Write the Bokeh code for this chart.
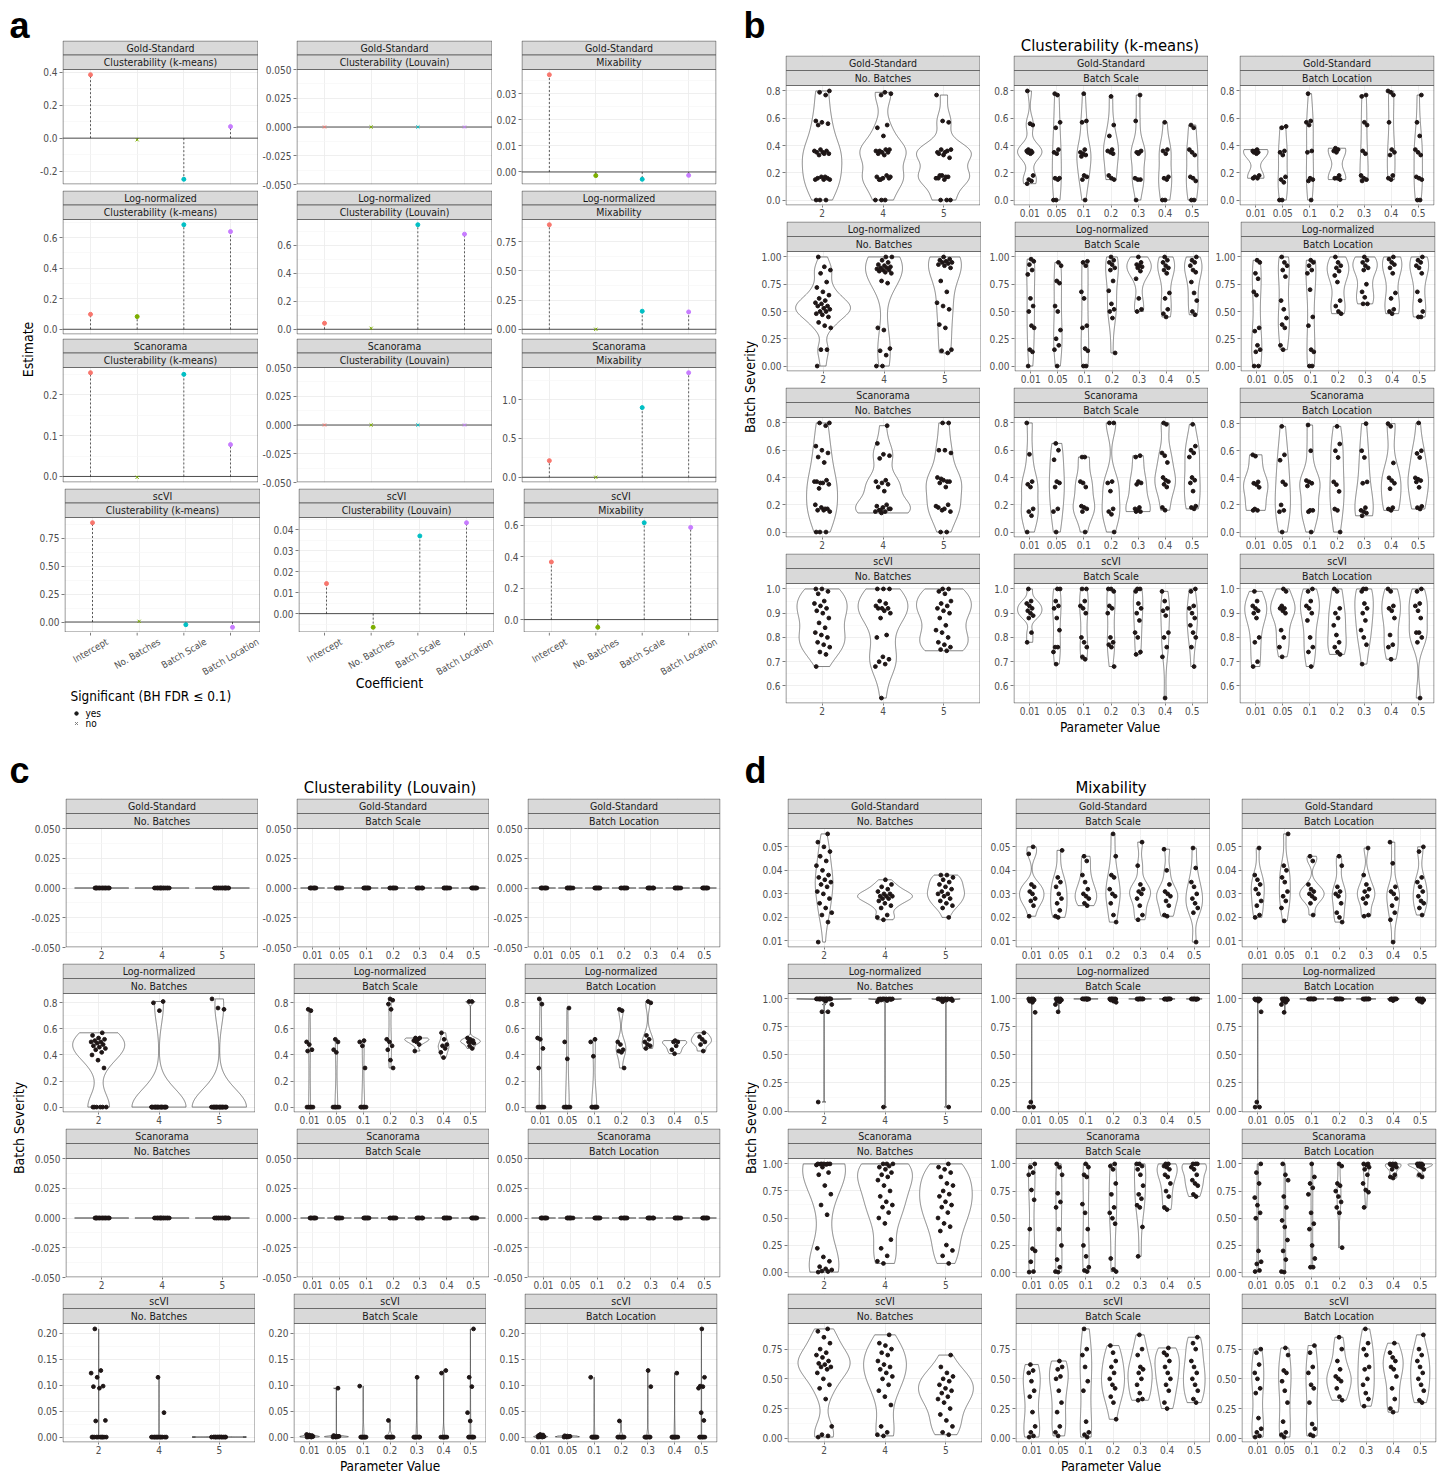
import math
import numpy as np
from bokeh.plotting import figure
from bokeh.layouts import row, column
from bokeh.models import Range1d, FixedTicker, NumeralTickFormatter
from bokeh.core.properties import value
from bokeh.embed import file_html
from bokeh.resources import INLINE

# ===================== DATA =====================
METHODS = ["Gold-Standard", "Log-normalized", "Scanorama", "scVI"]
METRICS = ["Clusterability (k-means)", "Clusterability (Louvain)", "Mixability"]
PARAMS = ["No. Batches", "Batch Scale", "Batch Location"]
NB_LEVELS = ["2", "4", "5"]
PV_LEVELS = ["0.01", "0.05", "0.1", "0.2", "0.3", "0.4", "0.5"]
COEFS = ["Intercept", "No. Batches", "Batch Scale", "Batch Location"]
COEF_COLORS = ["#F8766D", "#7CAE00", "#00BFC4", "#C77CFF"]

# ---- panel a: regression estimates (per method: k-means, Louvain, Mixability) ----
est_gold = [[0.384, -0.010, -0.249, 0.070], [0.0, 0.0, 0.0, 0.0], [0.0373, -0.0014, -0.0028, -0.0013]]
est_lognorm = [[0.098, 0.083, 0.685, 0.640], [0.043, 0.007, 0.745, 0.678], [0.897, 0.0, 0.155, 0.149]]
est_scanorama = [[0.254, -0.002, 0.250, 0.078], [0.0, 0.0, 0.0, 0.0], [0.214, 0.0, 0.897, 1.346]]
est_scvi = [[0.887, 0.006, -0.024, -0.047], [0.0143, -0.0065, 0.0370, 0.0433], [0.367, -0.049, 0.617, 0.587]]
sig_gold = [["yes", "no", "yes", "yes"], ["no", "no", "no", "no"], ["yes", "yes", "yes", "yes"]]
sig_lognorm = [["yes", "yes", "yes", "yes"], ["yes", "no", "yes", "yes"], ["yes", "no", "yes", "yes"]]
sig_scanorama = [["yes", "no", "yes", "yes"], ["no", "no", "no", "no"], ["yes", "no", "yes", "yes"]]
sig_scvi = [["yes", "no", "yes", "yes"], ["yes", "yes", "yes", "yes"], ["yes", "yes", "yes", "yes"]]
ticks_a_gold = [[-0.2, 0.0, 0.2, 0.4], [-0.05, -0.025, 0.0, 0.025, 0.05], [0.0, 0.01, 0.02, 0.03]]
ticks_a_lognorm = [[0.0, 0.2, 0.4, 0.6], [0.0, 0.2, 0.4, 0.6], [0.0, 0.25, 0.5, 0.75]]
ticks_a_scanorama = [[0.0, 0.1, 0.2], [-0.05, -0.025, 0.0, 0.025, 0.05], [0.0, 0.5, 1.0]]
ticks_a_scvi = [[0.0, 0.25, 0.5, 0.75], [0.0, 0.01, 0.02, 0.03, 0.04], [0.0, 0.2, 0.4, 0.6]]

# ---- panel b: Clusterability (k-means) batch severity ----
km_ticks = [[0.0, 0.2, 0.4, 0.6, 0.8], [0.0, 0.25, 0.5, 0.75, 1.0], [0.0, 0.2, 0.4, 0.6, 0.8], [0.6, 0.7, 0.8, 0.9, 1.0]]
km_gold_nb = [
    [0, 0, 0, 0.15, 0.15, 0.16, 0.16, 0.17, 0.15, 0.17, 0.33, 0.34, 0.35, 0.35, 0.36, 0.37, 0.36, 0.34, 0.55, 0.56, 0.57, 0.58, 0.77, 0.79, 0.8],
    [0, 0, 0, 0.15, 0.16, 0.16, 0.17, 0.18, 0.15, 0.17, 0.33, 0.34, 0.35, 0.35, 0.36, 0.37, 0.36, 0.37, 0.47, 0.53, 0.55, 0.77, 0.78, 0.79],
    [0, 0, 0, 0.15, 0.16, 0.17, 0.18, 0.16, 0.17, 0.18, 0.31, 0.33, 0.35, 0.36, 0.37, 0.37, 0.35, 0.34, 0.57, 0.58, 0.77]]
km_gold_scale = [
    [0.12, 0.14, 0.15, 0.18, 0.34, 0.35, 0.35, 0.35, 0.36, 0.36, 0.37, 0.55, 0.56, 0.8],
    [0, 0, 0.15, 0.16, 0.16, 0.34, 0.35, 0.37, 0.53, 0.57, 0.77, 0.78],
    [0, 0.15, 0.17, 0.18, 0.32, 0.33, 0.34, 0.35, 0.37, 0.57, 0.58, 0.78],
    [0.15, 0.16, 0.18, 0.34, 0.35, 0.36, 0.37, 0.47, 0.55, 0.76],
    [0, 0.15, 0.15, 0.16, 0.35, 0.35, 0.36, 0.34, 0.58, 0.77],
    [0, 0, 0.15, 0.16, 0.17, 0.34, 0.36, 0.37, 0.57],
    [0, 0, 0.14, 0.16, 0.17, 0.33, 0.35, 0.37, 0.53, 0.55]]
km_gold_loc = [
    [0.16, 0.16, 0.17, 0.18, 0.34, 0.35, 0.35, 0.36, 0.36, 0.37],
    [0, 0, 0.13, 0.15, 0.17, 0.33, 0.35, 0.36, 0.53, 0.54],
    [0, 0.14, 0.15, 0.16, 0.35, 0.36, 0.55, 0.57, 0.58, 0.78],
    [0.15, 0.16, 0.16, 0.18, 0.35, 0.36, 0.37, 0.38],
    [0.14, 0.15, 0.16, 0.18, 0.34, 0.36, 0.55, 0.57, 0.76, 0.77],
    [0.15, 0.16, 0.18, 0.33, 0.35, 0.37, 0.57, 0.77, 0.79, 0.8],
    [0, 0, 0.15, 0.16, 0.17, 0.33, 0.35, 0.37, 0.47, 0.57, 0.77]]
km_lognorm_nb = [
    [0, 0.15, 0.15, 0.35, 0.37, 0.4, 0.45, 0.47, 0.48, 0.5, 0.5, 0.52, 0.53, 0.55, 0.55, 0.57, 0.58, 0.6, 0.62, 0.65, 0.68, 0.72, 0.77, 0.85, 0.88, 0.91, 1.0],
    [0, 0, 0.1, 0.14, 0.16, 0.33, 0.35, 0.76, 0.78, 0.85, 0.86, 0.87, 0.88, 0.88, 0.89, 0.9, 0.9, 0.91, 0.92, 0.93, 0.95, 0.97, 1.0, 1.0],
    [0.12, 0.14, 0.15, 0.35, 0.38, 0.52, 0.55, 0.58, 0.68, 0.78, 0.9, 0.92, 0.93, 0.94, 0.95, 0.95, 0.96, 0.97, 0.98, 1.0]]
km_lognorm_scale = [
    [0, 0.13, 0.15, 0.35, 0.37, 0.5, 0.55, 0.62, 0.84, 0.88, 0.93, 0.96, 0.98],
    [0, 0.15, 0.19, 0.25, 0.33, 0.5, 0.55, 0.76, 0.78, 0.92, 0.95],
    [0, 0, 0.14, 0.16, 0.35, 0.37, 0.62, 0.68, 0.92, 0.95, 0.96],
    [0.12, 0.44, 0.5, 0.52, 0.57, 0.69, 0.78, 0.88, 0.9, 0.93, 0.95, 0.97, 1.0],
    [0.5, 0.52, 0.62, 0.8, 0.87, 0.9, 0.91, 0.92, 0.93, 0.95, 1.0],
    [0.45, 0.48, 0.52, 0.62, 0.67, 0.85, 0.88, 0.9, 0.92, 0.95, 0.97, 1.0],
    [0.47, 0.5, 0.6, 0.67, 0.77, 0.86, 0.88, 0.92, 0.95, 0.97, 1.0]]
km_lognorm_loc = [
    [0, 0, 0.13, 0.15, 0.19, 0.32, 0.35, 0.65, 0.68, 0.8, 0.85, 0.95, 0.97],
    [0.15, 0.19, 0.35, 0.38, 0.44, 0.52, 0.6, 0.82, 0.88, 0.92, 0.95, 1.0],
    [0, 0, 0.13, 0.15, 0.37, 0.45, 0.7, 0.85, 0.88, 0.92, 0.95, 0.97],
    [0.48, 0.5, 0.55, 0.6, 0.77, 0.83, 0.87, 0.9, 0.92, 0.95, 1.0],
    [0.57, 0.57, 0.63, 0.68, 0.75, 0.88, 0.9, 0.92, 0.95, 0.97, 1.0],
    [0.48, 0.5, 0.52, 0.62, 0.67, 0.85, 0.9, 0.93, 0.95, 0.98, 1.0],
    [0.45, 0.45, 0.5, 0.6, 0.68, 0.85, 0.9, 0.92, 0.95, 0.97, 1.0]]
km_scan_nb = [
    [0, 0, 0, 0.15, 0.16, 0.16, 0.17, 0.18, 0.2, 0.17, 0.32, 0.35, 0.36, 0.37, 0.38, 0.36, 0.37, 0.51, 0.55, 0.58, 0.6, 0.63, 0.78, 0.8, 0.8],
    [0.14, 0.15, 0.15, 0.16, 0.17, 0.18, 0.19, 0.2, 0.16, 0.17, 0.3, 0.33, 0.35, 0.36, 0.37, 0.38, 0.54, 0.56, 0.57, 0.65, 0.78],
    [0, 0, 0.15, 0.17, 0.18, 0.2, 0.16, 0.19, 0.33, 0.36, 0.37, 0.38, 0.4, 0.37, 0.39, 0.58, 0.6, 0.6, 0.8, 0.8]]
km_scan_scale = [
    [0, 0.12, 0.15, 0.17, 0.33, 0.35, 0.37, 0.57, 0.8],
    [0, 0.15, 0.17, 0.33, 0.36, 0.37, 0.53, 0.6, 0.65],
    [0, 0.15, 0.17, 0.18, 0.19, 0.33, 0.36, 0.37, 0.55, 0.55],
    [0, 0.13, 0.15, 0.17, 0.3, 0.36, 0.37, 0.8, 0.8],
    [0.15, 0.15, 0.16, 0.17, 0.18, 0.35, 0.36, 0.37, 0.55, 0.56],
    [0.16, 0.18, 0.33, 0.35, 0.37, 0.38, 0.4, 0.51, 0.56, 0.58, 0.79, 0.8],
    [0.17, 0.18, 0.19, 0.3, 0.36, 0.38, 0.4, 0.55, 0.58, 0.6, 0.63, 0.79]]
km_scan_loc = [
    [0.16, 0.16, 0.17, 0.33, 0.35, 0.36, 0.37, 0.56, 0.57],
    [0, 0.15, 0.16, 0.2, 0.35, 0.37, 0.53, 0.57, 0.78],
    [0, 0.15, 0.16, 0.16, 0.34, 0.36, 0.37, 0.38, 0.6, 0.79],
    [0, 0.16, 0.17, 0.3, 0.35, 0.37, 0.55, 0.6, 0.65, 0.78],
    [0.12, 0.14, 0.15, 0.16, 0.18, 0.36, 0.37, 0.55, 0.6, 0.8],
    [0.16, 0.17, 0.18, 0.32, 0.36, 0.38, 0.4, 0.51, 0.78, 0.8],
    [0.17, 0.18, 0.19, 0.33, 0.37, 0.38, 0.39, 0.4, 0.55, 0.58, 0.6, 0.805]]
km_scvi_nb = [
    [0.68, 0.73, 0.74, 0.76, 0.77, 0.78, 0.8, 0.81, 0.82, 0.84, 0.86, 0.88, 0.9, 0.91, 0.92, 0.93, 0.94, 0.95, 0.98, 0.99, 1.0, 1.0],
    [0.55, 0.68, 0.69, 0.7, 0.71, 0.72, 0.8, 0.81, 0.88, 0.9, 0.91, 0.92, 0.92, 0.92, 0.93, 0.94, 0.95, 1.0, 1.0, 1.0],
    [0.745, 0.75, 0.76, 0.77, 0.78, 0.8, 0.82, 0.83, 0.85, 0.88, 0.9, 0.91, 0.92, 0.93, 0.94, 0.95, 0.98, 0.99, 1.0, 1.0]]
km_scvi_scale = [
    [0.78, 0.82, 0.88, 0.89, 0.9, 0.91, 0.92, 0.93, 0.94, 0.95, 1.0],
    [0.69, 0.74, 0.76, 0.76, 0.83, 0.88, 0.92, 0.93, 0.95, 1.0, 1.0],
    [0.71, 0.72, 0.76, 0.78, 0.8, 0.9, 0.92, 0.93, 0.95, 1.0, 1.0],
    [0.68, 0.76, 0.77, 0.78, 0.8, 0.9, 0.92, 0.93, 0.99, 1.0, 1.0],
    [0.73, 0.74, 0.8, 0.82, 0.87, 0.9, 0.92, 0.94, 0.99, 1.0, 1.0],
    [0.55, 0.72, 0.76, 0.8, 0.82, 0.89, 0.91, 0.92, 0.95, 0.99],
    [0.68, 0.76, 0.8, 0.82, 0.85, 0.88, 0.9, 0.92, 0.93, 0.99, 1.0]]
km_scvi_loc = [
    [0.68, 0.7, 0.78, 0.8, 0.88, 0.9, 0.91, 0.92, 0.93, 0.95, 0.99],
    [0.72, 0.76, 0.8, 0.83, 0.9, 0.91, 0.92, 0.92, 0.93, 0.99, 1.0],
    [0.68, 0.74, 0.76, 0.8, 0.87, 0.9, 0.92, 0.93, 0.95, 0.99, 1.0],
    [0.73, 0.74, 0.76, 0.78, 0.81, 0.85, 0.88, 0.9, 0.92, 0.99, 1.0],
    [0.69, 0.77, 0.8, 0.83, 0.87, 0.9, 0.92, 0.94, 0.99, 1.0, 1.0],
    [0.71, 0.76, 0.77, 0.81, 0.88, 0.91, 0.92, 0.93, 0.99, 1.0],
    [0.55, 0.78, 0.8, 0.82, 0.82, 0.88, 0.91, 0.93, 0.94, 0.99, 1.0]]

# ---- panel c: Clusterability (Louvain) batch severity ----
lv_ticks = [[-0.05, -0.025, 0.0, 0.025, 0.05], [0.0, 0.2, 0.4, 0.6, 0.8], [-0.05, -0.025, 0.0, 0.025, 0.05], [0.0, 0.05, 0.1, 0.15, 0.2]]
lv_gold_nb = [
    [0.0, 0.0, 0.0, 0.0, 0.0, 0.0, 0.0, 0.0, 0.0, 0.0, 0.0, 0.0, 0.0, 0.0],
    [0.0, 0.0, 0.0, 0.0, 0.0, 0.0, 0.0, 0.0, 0.0, 0.0, 0.0, 0.0, 0.0, 0.0],
    [0.0, 0.0, 0.0, 0.0, 0.0, 0.0, 0.0, 0.0, 0.0, 0.0, 0.0, 0.0, 0.0, 0.0]]
lv_gold_scale = [
    [0.0, 0.0, 0.0, 0.0, 0.0, 0.0, 0.0], [0.0, 0.0, 0.0, 0.0, 0.0, 0.0, 0.0],
    [0.0, 0.0, 0.0, 0.0, 0.0, 0.0, 0.0], [0.0, 0.0, 0.0, 0.0, 0.0, 0.0, 0.0],
    [0.0, 0.0, 0.0, 0.0, 0.0, 0.0, 0.0], [0.0, 0.0, 0.0, 0.0, 0.0, 0.0, 0.0],
    [0.0, 0.0, 0.0, 0.0, 0.0, 0.0, 0.0]]
lv_gold_loc = [
    [0.0, 0.0, 0.0, 0.0, 0.0, 0.0, 0.0], [0.0, 0.0, 0.0, 0.0, 0.0, 0.0, 0.0],
    [0.0, 0.0, 0.0, 0.0, 0.0, 0.0, 0.0], [0.0, 0.0, 0.0, 0.0, 0.0, 0.0, 0.0],
    [0.0, 0.0, 0.0, 0.0, 0.0, 0.0, 0.0], [0.0, 0.0, 0.0, 0.0, 0.0, 0.0, 0.0],
    [0.0, 0.0, 0.0, 0.0, 0.0, 0.0, 0.0]]
lv_lognorm_nb = [
    [0, 0, 0, 0, 0, 0, 0.3, 0.36, 0.4, 0.42, 0.44, 0.45, 0.46, 0.47, 0.48, 0.49, 0.5, 0.5, 0.51, 0.52, 0.53, 0.55, 0.57],
    [0, 0, 0, 0, 0, 0, 0, 0, 0, 0, 0, 0, 0, 0, 0, 0, 0, 0, 0.74, 0.8, 0.81],
    [0, 0, 0, 0, 0, 0, 0, 0, 0, 0, 0, 0, 0, 0, 0, 0, 0, 0, 0.75, 0.76, 0.83]]
lv_lognorm_scale = [
    [0, 0, 0, 0, 0, 0.43, 0.44, 0.48, 0.5, 0.74, 0.75],
    [0, 0, 0, 0, 0, 0.42, 0.44, 0.5, 0.52],
    [0, 0, 0, 0, 0, 0.3, 0.47, 0.5, 0.51],
    [0.3, 0.36, 0.44, 0.47, 0.5, 0.52, 0.75, 0.79, 0.82, 0.83],
    [0.43, 0.48, 0.5, 0.51, 0.52, 0.53, 0.53],
    [0.38, 0.42, 0.45, 0.47, 0.48, 0.52, 0.57],
    [0.45, 0.47, 0.49, 0.5, 0.5, 0.51, 0.52, 0.53, 0.81, 0.81]]
lv_lognorm_loc = [
    [0, 0, 0, 0, 0, 0.3, 0.45, 0.52, 0.53, 0.79, 0.83],
    [0, 0, 0, 0, 0, 0.37, 0.5, 0.76],
    [0, 0, 0, 0, 0, 0, 0.39, 0.5, 0.52],
    [0.3, 0.42, 0.43, 0.44, 0.48, 0.5, 0.74, 0.75],
    [0.45, 0.47, 0.48, 0.5, 0.52, 0.55, 0.8, 0.81],
    [0.41, 0.44, 0.47, 0.5, 0.5, 0.51],
    [0.43, 0.48, 0.5, 0.52, 0.54, 0.57]]
lv_scan_nb = [
    [0.0, 0.0, 0.0, 0.0, 0.0, 0.0, 0.0, 0.0, 0.0, 0.0, 0.0, 0.0, 0.0, 0.0],
    [0.0, 0.0, 0.0, 0.0, 0.0, 0.0, 0.0, 0.0, 0.0, 0.0, 0.0, 0.0, 0.0, 0.0],
    [0.0, 0.0, 0.0, 0.0, 0.0, 0.0, 0.0, 0.0, 0.0, 0.0, 0.0, 0.0, 0.0, 0.0]]
lv_scan_scale = [
    [0.0, 0.0, 0.0, 0.0, 0.0, 0.0, 0.0], [0.0, 0.0, 0.0, 0.0, 0.0, 0.0, 0.0],
    [0.0, 0.0, 0.0, 0.0, 0.0, 0.0, 0.0], [0.0, 0.0, 0.0, 0.0, 0.0, 0.0, 0.0],
    [0.0, 0.0, 0.0, 0.0, 0.0, 0.0, 0.0], [0.0, 0.0, 0.0, 0.0, 0.0, 0.0, 0.0],
    [0.0, 0.0, 0.0, 0.0, 0.0, 0.0, 0.0]]
lv_scan_loc = [
    [0.0, 0.0, 0.0, 0.0, 0.0, 0.0, 0.0], [0.0, 0.0, 0.0, 0.0, 0.0, 0.0, 0.0],
    [0.0, 0.0, 0.0, 0.0, 0.0, 0.0, 0.0], [0.0, 0.0, 0.0, 0.0, 0.0, 0.0, 0.0],
    [0.0, 0.0, 0.0, 0.0, 0.0, 0.0, 0.0], [0.0, 0.0, 0.0, 0.0, 0.0, 0.0, 0.0],
    [0.0, 0.0, 0.0, 0.0, 0.0, 0.0, 0.0]]
lv_scvi_nb = [
    [0, 0, 0, 0, 0, 0, 0, 0, 0, 0, 0.031, 0.032, 0.094, 0.097, 0.098, 0.115, 0.123, 0.128, 0.208],
    [0, 0, 0, 0, 0, 0, 0, 0, 0, 0, 0, 0, 0.047, 0.115],
    [0.0, 0.0, 0.0001, 0.0001, 0.0002, 0.0, 0.0001, 0.0, 0.0002, 0.0001, 0.0, 0.0001]]
lv_scvi_scale = [
    [0.0, 0.0, 0.0005, 0.001, 0.0015, 0.002, 0.003, 0.004, 0.005],
    [0.0, 0.0, 0.0005, 0.001, 0.0015, 0.002, 0.003, 0.094],
    [0, 0, 0, 0, 0, 0, 0, 0.098],
    [0, 0, 0, 0, 0, 0, 0, 0.032],
    [0, 0, 0, 0, 0, 0, 0, 0.115],
    [0, 0, 0, 0, 0, 0, 0.123, 0.128],
    [0, 0, 0, 0, 0, 0, 0.031, 0.047, 0.097, 0.115, 0.208]]
lv_scvi_loc = [
    [0.0, 0.0, 0.0005, 0.001, 0.002, 0.003, 0.004, 0.005],
    [0.0, 0.0, 0.0005, 0.001, 0.0015, 0.002, 0.0025],
    [0, 0, 0, 0, 0, 0, 0, 0.115],
    [0, 0, 0, 0, 0, 0, 0, 0.031],
    [0, 0, 0, 0, 0, 0, 0.097, 0.128],
    [0, 0, 0, 0, 0, 0, 0, 0.123],
    [0, 0, 0, 0, 0, 0.032, 0.047, 0.094, 0.097, 0.098, 0.115, 0.208]]

# ---- panel d: Mixability batch severity ----
mx_ticks = [[0.01, 0.02, 0.03, 0.04, 0.05], [0.0, 0.25, 0.5, 0.75, 1.0], [0.0, 0.25, 0.5, 0.75, 1.0], [0.0, 0.25, 0.5, 0.75]]
mx_gold_nb = [
    [0.0095, 0.018, 0.021, 0.022, 0.024, 0.026, 0.028, 0.03, 0.031, 0.033, 0.034, 0.035, 0.036, 0.037, 0.038, 0.04, 0.042, 0.044, 0.046, 0.048, 0.05, 0.052, 0.0555],
    [0.019, 0.02, 0.021, 0.024, 0.025, 0.026, 0.027, 0.028, 0.028, 0.029, 0.029, 0.029, 0.03, 0.03, 0.031, 0.032, 0.033, 0.034, 0.036],
    [0.02, 0.024, 0.025, 0.026, 0.027, 0.028, 0.029, 0.03, 0.03, 0.031, 0.032, 0.033, 0.034, 0.035, 0.036, 0.037, 0.038, 0.038]]
mx_gold_scale = [
    [0.0205, 0.025, 0.027, 0.028, 0.03, 0.031, 0.033, 0.034, 0.047, 0.05],
    [0.02, 0.0205, 0.023, 0.026, 0.028, 0.03, 0.033, 0.035, 0.037, 0.0485],
    [0.025, 0.026, 0.028, 0.029, 0.03, 0.032, 0.035, 0.038, 0.044, 0.046],
    [0.018, 0.021, 0.026, 0.029, 0.03, 0.032, 0.037, 0.038, 0.046, 0.0555],
    [0.019, 0.021, 0.025, 0.028, 0.03, 0.031, 0.032, 0.034, 0.042, 0.052],
    [0.0205, 0.021, 0.025, 0.027, 0.029, 0.03, 0.031, 0.034, 0.04, 0.049],
    [0.0095, 0.022, 0.024, 0.026, 0.028, 0.03, 0.033, 0.035, 0.041, 0.0495]]
mx_gold_loc = [
    [0.02, 0.021, 0.025, 0.027, 0.03, 0.032, 0.034, 0.036, 0.038, 0.0495],
    [0.0185, 0.024, 0.027, 0.029, 0.031, 0.035, 0.037, 0.04, 0.042, 0.0555],
    [0.021, 0.026, 0.028, 0.029, 0.03, 0.031, 0.032, 0.034, 0.044, 0.046],
    [0.018, 0.02, 0.022, 0.026, 0.029, 0.03, 0.031, 0.033, 0.042, 0.046],
    [0.0205, 0.021, 0.026, 0.028, 0.029, 0.031, 0.032, 0.034, 0.038, 0.0495],
    [0.0095, 0.019, 0.022, 0.025, 0.028, 0.03, 0.031, 0.033, 0.043, 0.052],
    [0.021, 0.024, 0.026, 0.027, 0.029, 0.031, 0.033, 0.035, 0.037, 0.048, 0.05]]
mx_lognorm_nb = [
    [0.08, 0.885, 0.885, 0.95, 0.98, 0.998, 0.999, 0.999, 1.0, 1.0, 1.0, 1.0, 1.0, 1.0, 1.0, 1.0, 1.0, 1.0, 1.0, 1.0],
    [0.035, 0.975, 0.985, 0.99, 0.995, 0.997, 0.998, 0.999, 1.0, 1.0, 1.0, 1.0, 1.0, 1.0],
    [0.035, 0.975, 0.985, 0.99, 0.995, 0.997, 0.999, 1.0, 1.0, 1.0, 1.0, 1.0, 1.0]]
mx_lognorm_scale = [
    [0.035, 0.035, 0.08, 0.88, 0.97, 0.98, 0.99, 1.0, 1.0, 1.0],
    [0.885, 0.95, 0.975, 0.98, 0.99, 0.999, 1.0, 1.0, 1.0],
    [0.995, 0.998, 0.999, 1.0, 1.0, 1.0, 1.0, 1.0, 1.0],
    [0.97, 0.98, 0.99, 0.998, 1.0, 1.0, 1.0, 1.0, 0.999],
    [0.997, 0.999, 1.0, 1.0, 1.0, 1.0, 1.0, 0.999],
    [0.995, 0.998, 1.0, 1.0, 1.0, 1.0, 0.999, 0.999],
    [0.995, 0.998, 0.999, 1.0, 1.0, 1.0, 1.0, 0.999]]
mx_lognorm_loc = [
    [0.035, 0.035, 0.08, 0.885, 0.98, 0.99, 0.995, 1.0, 1.0, 1.0],
    [0.88, 0.95, 0.97, 0.98, 0.99, 0.999, 1.0, 1.0, 1.0],
    [0.998, 0.999, 1.0, 1.0, 1.0, 1.0, 1.0, 0.999],
    [0.998, 0.999, 1.0, 1.0, 1.0, 1.0, 1.0, 0.999],
    [0.997, 0.999, 1.0, 1.0, 1.0, 1.0, 1.0, 0.998],
    [0.985, 0.995, 0.999, 1.0, 1.0, 1.0, 1.0, 0.999],
    [0.97, 0.98, 0.99, 0.998, 1.0, 1.0, 1.0, 0.999]]
mx_scan_nb = [
    [0.0, 0.005, 0.01, 0.02, 0.03, 0.05, 0.1, 0.14, 0.22, 0.53, 0.62, 0.72, 0.8, 0.9, 0.92, 0.97, 0.99, 0.995, 0.998, 1.0, 1.0, 1.0, 1.0, 1.0],
    [0.08, 0.1, 0.15, 0.22, 0.3, 0.45, 0.5, 0.55, 0.6, 0.62, 0.65, 0.7, 0.75, 0.8, 0.85, 0.88, 0.9, 0.92, 0.95, 0.97, 0.98, 1.0, 1.0, 1.0],
    [0.08, 0.15, 0.2, 0.25, 0.38, 0.42, 0.45, 0.5, 0.55, 0.6, 0.62, 0.65, 0.7, 0.72, 0.75, 0.8, 0.82, 0.88, 0.92, 0.95, 0.97, 1.0]]
mx_scan_scale = [
    [0.005, 0.01, 0.1, 0.2, 0.22, 0.4, 0.67, 0.76, 0.9, 0.92, 0.97, 1.0],
    [0.005, 0.01, 0.05, 0.12, 0.25, 0.4, 0.6, 0.65, 0.73, 0.9, 0.97, 1.0],
    [0.01, 0.02, 0.05, 0.15, 0.25, 0.4, 0.55, 0.63, 0.88, 0.9, 0.97, 1.0],
    [0.01, 0.03, 0.13, 0.45, 0.5, 0.55, 0.6, 0.72, 0.82, 0.95, 0.98, 1.0],
    [0.15, 0.42, 0.6, 0.62, 0.68, 0.72, 0.8, 0.9, 0.95, 0.98, 1.0, 1.0],
    [0.58, 0.6, 0.7, 0.75, 0.82, 0.88, 0.9, 0.95, 0.97, 0.98, 1.0, 1.0],
    [0.7, 0.72, 0.8, 0.82, 0.85, 0.9, 0.95, 0.97, 1.0, 1.0, 1.0]]
mx_scan_loc = [
    [0.01, 0.02, 0.08, 0.1, 0.2, 0.5, 0.55, 0.62, 0.69, 0.82, 0.92, 1.0],
    [0.005, 0.01, 0.12, 0.2, 0.3, 0.42, 0.48, 0.6, 0.7, 0.85, 0.9, 1.0],
    [0.05, 0.05, 0.13, 0.25, 0.4, 0.45, 0.55, 0.72, 0.78, 0.82, 0.88, 1.0],
    [0.23, 0.55, 0.6, 0.65, 0.7, 0.75, 0.8, 0.82, 0.98, 1.0],
    [0.6, 0.74, 0.76, 0.82, 0.9, 0.95, 0.97, 0.99, 1.0, 1.0],
    [0.87, 0.88, 0.9, 0.95, 0.97, 0.98, 0.99, 1.0, 1.0, 1.0],
    [0.88, 0.9, 0.95, 0.97, 0.98, 0.99, 1.0, 1.0, 1.0, 1.0]]
mx_scvi_nb = [
    [0.01, 0.02, 0.03, 0.1, 0.33, 0.42, 0.45, 0.5, 0.55, 0.58, 0.6, 0.6, 0.62, 0.63, 0.65, 0.68, 0.7, 0.72, 0.75, 0.8, 0.85, 0.9, 0.92],
    [0.02, 0.03, 0.05, 0.1, 0.28, 0.35, 0.4, 0.45, 0.5, 0.52, 0.55, 0.58, 0.6, 0.62, 0.65, 0.7, 0.72, 0.75, 0.78, 0.8, 0.87],
    [0.03, 0.05, 0.1, 0.15, 0.2, 0.25, 0.3, 0.33, 0.35, 0.38, 0.4, 0.42, 0.45, 0.48, 0.5, 0.52, 0.55, 0.6, 0.7]]
mx_scvi_scale = [
    [0.01, 0.02, 0.05, 0.1, 0.22, 0.35, 0.4, 0.48, 0.55, 0.57, 0.62],
    [0.02, 0.05, 0.1, 0.22, 0.3, 0.4, 0.5, 0.52, 0.58, 0.6, 0.65],
    [0.01, 0.03, 0.05, 0.14, 0.4, 0.48, 0.6, 0.7, 0.75, 0.92],
    [0.16, 0.3, 0.35, 0.42, 0.45, 0.5, 0.55, 0.6, 0.65, 0.72, 0.78],
    [0.32, 0.33, 0.38, 0.45, 0.5, 0.55, 0.58, 0.6, 0.7, 0.75, 0.87],
    [0.25, 0.3, 0.4, 0.45, 0.5, 0.55, 0.6, 0.65, 0.7, 0.72, 0.76],
    [0.3, 0.33, 0.4, 0.45, 0.5, 0.55, 0.6, 0.65, 0.75, 0.8, 0.85]]
mx_scvi_loc = [
    [0.01, 0.02, 0.05, 0.08, 0.17, 0.38, 0.42, 0.5, 0.55, 0.62, 0.72, 0.75],
    [0.01, 0.03, 0.05, 0.14, 0.3, 0.4, 0.48, 0.55, 0.57, 0.7, 0.76],
    [0.02, 0.03, 0.08, 0.12, 0.3, 0.42, 0.45, 0.55, 0.6, 0.72, 0.78],
    [0.32, 0.35, 0.42, 0.48, 0.5, 0.52, 0.58, 0.65, 0.75, 0.85],
    [0.27, 0.33, 0.38, 0.45, 0.5, 0.58, 0.6, 0.7, 0.75, 0.8, 0.92],
    [0.22, 0.25, 0.33, 0.42, 0.52, 0.58, 0.6, 0.65, 0.68, 0.72, 0.8],
    [0.3, 0.32, 0.4, 0.45, 0.5, 0.55, 0.6, 0.65, 0.7, 0.75, 0.87]]

# ===================== STYLE =====================
FC = "'DejaVu Sans Condensed', 'Liberation Sans Narrow', 'DejaVu Sans', sans-serif"
FB = "'Liberation Sans', Arial, 'DejaVu Sans', sans-serif"
STRIP = "#D9D9D9"
EDGE = "#5A5A5A"
GRID = "#EBEBEB"
GRIDMIN = "#F5F5F5"
TICKTXT = "#4D4D4D"
PT = "#1E1616"
VIOL = "#333333"
TICK_FS = "10px"
LETTER_FS = "36px"
# approximate advance widths (em) of DejaVu Sans, used to centre the rotated coefficient labels
CW = {"I": .295, "n": .634, "t": .392, "e": .615, "r": .411, "c": .55, "p": .635, "N": .748, "o": .612,
      ".": .318, " ": .318, "B": .686, "a": .613, "h": .634, "s": .521, "S": .635, "l": .278, "L": .557, "i": .278}


def text_w(s, size):
    return sum(CW.get(ch, 0.6) for ch in s) * 0.9 * size


def decimals(t):
    s = ("%.6f" % abs(t)).rstrip("0")
    return len(s) - s.index(".") - 1


def expand(vals):
    lo, hi = float(min(vals)), float(max(vals))
    if hi - lo == 0:
        return lo - 0.05, hi + 0.05
    e = 0.05 * (hi - lo)
    return lo - e, hi + e


def minor_of(ticks, lo, hi):
    step = ticks[1] - ticks[0]
    cand = [ticks[0] - step / 2] + [(a + b) / 2 for a, b in zip(ticks, ticks[1:])] + [ticks[-1] + step / 2]
    return [m for m in cand if lo <= m <= hi]


def kde(vals, grid):
    x = np.asarray(vals, float)
    n = len(x)
    sd = x.std(ddof=1)
    q75, q25 = np.percentile(x, [75, 25])
    lo = min(sd, (q75 - q25) / 1.34)
    if lo == 0:
        lo = sd if sd > 0 else (abs(x[0]) if x[0] != 0 else 1.0)
    bw = 0.9 * lo * n ** -0.2
    z = (grid[:, None] - x[None, :]) / bw
    return np.exp(-0.5 * z * z).sum(1) / (n * bw * math.sqrt(2 * math.pi))


def jit(j, i):
    return (((j * 0.6180339887 + i * 0.2719 + 0.13) % 1.0) - 0.5) * 0.26


def make_fig(W, Hp, S, L, R, B, nx, lo, hi, show_x):
    x0, x1 = 0.4, nx + 0.6
    top = hi + (hi - lo) * S / Hp
    p = figure(frame_width=W, frame_height=Hp + S, x_range=Range1d(x0, x1), y_range=Range1d(lo, top),
               min_border_left=L, min_border_right=R, min_border_top=0, min_border_bottom=B,
               x_axis_location="below" if show_x else None,
               output_backend="svg", toolbar_location=None, title=None)
    p.outline_line_color = None
    p.background_fill_color = "white"
    p.border_fill_color = "white"
    return p, x0, x1, top


def style_axes(p, yticks, lo, hi, nx, xlabels, show_x):
    dec = max(decimals(t) for t in yticks)
    yt = FixedTicker(ticks=list(yticks), minor_ticks=minor_of(yticks, lo, hi))
    p.yaxis.ticker = yt
    p.yaxis.formatter = NumeralTickFormatter(format=("0." + "0" * dec) if dec else "0")
    p.ygrid.ticker = yt
    p.ygrid.grid_line_color = GRID
    p.ygrid.grid_line_width = 0.8
    p.ygrid.minor_grid_line_color = GRIDMIN
    p.ygrid.minor_grid_line_width = 0.6
    xt = FixedTicker(ticks=list(range(1, nx + 1)))
    p.xgrid.ticker = xt
    p.xgrid.grid_line_color = GRID
    p.xgrid.grid_line_width = 0.8
    if show_x:
        p.xaxis.ticker = xt
        p.xaxis.major_label_overrides = {i + 1: lab for i, lab in enumerate(xlabels)}
    for ax in p.axis:
        ax.axis_line_color = None
        ax.major_tick_line_color = EDGE
        ax.major_tick_line_width = 0.8
        ax.major_tick_in = 0
        ax.minor_tick_line_color = None
        ax.major_label_text_font = FC
        ax.major_label_text_color = TICKTXT
        ax.major_label_text_font_size = TICK_FS
    p.yaxis.major_tick_out = 3
    p.yaxis.major_label_standoff = 1
    if show_x:
        p.xaxis.major_tick_out = 2
        p.xaxis.major_label_standoff = 1


def finish(p, x0, x1, lo, hi, top, W, Hp, S, s1, s2):
    dx = (x1 - x0) / W
    dy = (top - lo) / (Hp + S)
    p.quad(left=[x0 + 0.5 * dx], right=[x1 - 0.5 * dx], bottom=[lo + 0.5 * dy], top=[hi],
           fill_color=None, line_color=EDGE, line_width=0.8)
    mid = hi + (top - hi) / 2
    p.quad(left=[x0 + 0.5 * dx] * 2, right=[x1 - 0.5 * dx] * 2, bottom=[mid, hi], top=[top - 0.5 * dy, mid],
           fill_color=STRIP, line_color=EDGE, line_width=0.8)
    xc = (x0 + x1) / 2
    p.text(x=[xc, xc], y=[(mid + top) / 2, (hi + mid) / 2], text=[s1, s2], text_font=value(FC),
           text_font_size=value("10.5px"), text_align="center", text_baseline="middle", text_color="#1A1A1A")


def violin_facet(groups, cats, yticks, s1, s2, W, L, R, B, Hp, S):
    allv = [v for g in groups for v in g]
    lo, hi = expand(allv)
    nx = len(cats)
    p, x0, x1, top = make_fig(W, Hp, S, L, R, B, nx, lo, hi, True)
    style_axes(p, yticks, lo, hi, nx, cats, True)
    grids, dens = [], []
    for g in groups:
        a = np.asarray(g, float)
        gmin, gmax = a.min(), a.max()
        if gmax - gmin == 0:
            grids.append(np.array([gmin, gmin]))
            dens.append(None)
        else:
            gr = np.linspace(gmin, gmax, 256)
            grids.append(gr)
            dens.append(kde(a, gr))
    real = [d.max() for d in dens if d is not None]
    dmax = max(real) if real else 1.0
    xs, ys = [], []
    for i, (gr, d) in enumerate(zip(grids, dens)):
        c = i + 1
        w = np.full(len(gr), 0.45) if d is None else 0.45 * d / dmax
        xs.append(list(c - w) + list((c + w)[::-1]))
        ys.append(list(gr) + list(gr[::-1]))
    p.patches(xs=xs, ys=ys, fill_color="white", line_color=VIOL, line_width=0.6)
    px, py = [], []
    for i, g in enumerate(groups):
        for j, v in enumerate(g):
            px.append(i + 1 + jit(j, i))
            py.append(v)
    p.scatter(x=px, y=py, size=3.8, color=PT)
    finish(p, x0, x1, lo, hi, top, W, Hp, S, s1, s2)
    return p


def coef_facet(vals, sigs, yticks, s1, s2, W, L, R, B, Hp, S):
    lo, hi = expand([min(0.0, min(vals)), max(0.0, max(vals))])
    nx = len(COEFS)
    p, x0, x1, top = make_fig(W, Hp, S, L, R, B, nx, lo, hi, False)
    style_axes(p, yticks, lo, hi, nx, COEFS, False)
    p.segment(x0=[x0], x1=[x1], y0=[0], y1=[0], line_color="#4D4D4D", line_width=1)
    idx = list(range(1, nx + 1))
    p.segment(x0=idx, x1=idx, y0=[0] * nx, y1=vals, line_color="#1A1A1A", line_width=0.7, line_dash="2 2")
    yi = [i for i in range(nx) if sigs[i] == "yes"]
    ni = [i for i in range(nx) if sigs[i] != "yes"]
    if yi:
        p.scatter(x=[i + 1 for i in yi], y=[vals[i] for i in yi], marker="circle", size=4,
                  color=[COEF_COLORS[i] for i in yi])
    if ni:
        p.scatter(x=[i + 1 for i in ni], y=[vals[i] for i in ni], marker="x", size=4.5, line_width=1,
                  line_color=[COEF_COLORS[i] for i in ni])
    finish(p, x0, x1, lo, hi, top, W, Hp, S, s1, s2)
    return p


def deco(w, h):
    p = figure(width=w, height=h, x_range=Range1d(0, w), y_range=Range1d(0, h), min_border=0,
               x_axis_location=None, y_axis_location=None, output_backend="svg",
               toolbar_location=None, title=None)
    p.outline_line_color = None
    p.background_fill_color = "white"
    p.border_fill_color = "white"
    p.xgrid.visible = False
    p.ygrid.visible = False
    return p


def dtext(p, h, x, ytop, s, size, font=FC, align="center", baseline="middle", angle=0.0, bold=False, color="#000000"):
    p.text(x=[x], y=[h - ytop], text=[s], text_font=value(font), text_font_size=value(size),
           text_align=align, text_baseline=baseline, angle=angle, text_color=color,
           text_font_style="bold" if bold else "normal")


# ===================== PANEL A =====================
A_COLS = [(196, 26, 0), (196, 38, 0), (195, 29, 4)]
A_HP, A_S = 115, 29
A_B = [6, 4, 6, 0]
A_LEFT = 28
est_rows = [est_gold, est_lognorm, est_scanorama, est_scvi]
sig_rows = [sig_gold, sig_lognorm, sig_scanorama, sig_scvi]
tick_rows = [ticks_a_gold, ticks_a_lognorm, ticks_a_scanorama, ticks_a_scvi]
a_rows = []
for r in range(4):
    figs = []
    for c in range(3):
        W, L, R = A_COLS[c]
        figs.append(coef_facet(est_rows[r][c], sig_rows[r][c], tick_rows[r][c], METHODS[r], METRICS[c],
                               W, L, R, A_B[r], A_HP, A_S))
    a_rows.append(row(*figs))
a_rows_h = sum(A_HP + A_S + b for b in A_B)
a_head_h = 40
left_a_h = a_head_h + a_rows_h
left_a = deco(A_LEFT, left_a_h)
dtext(left_a, left_a_h, 1, 25, "a", LETTER_FS, font=FB, align="left", baseline="middle", bold=True)
dtext(left_a, left_a_h, 19, 349, "Estimate", "14px", angle=math.pi / 2)
head_a = deco(712 - A_LEFT, a_head_h)
foot_a_h = 735 - left_a_h
foot_a = deco(712, foot_a_h)
# x axis of the bottom row (ticks and 30-degree labels) drawn under the facets
fx = A_LEFT
for (W, L, R) in A_COLS:
    fx += L
    for k, lab in enumerate(COEFS):
        tx = fx + (k + 1 - 0.4) / 4.2 * W
        foot_a.segment(x0=[tx], x1=[tx], y0=[foot_a_h], y1=[foot_a_h - 3], line_color=EDGE, line_width=0.8)
        lw = text_w(lab, 9.5)
        bh = lw * 0.5 + 9.5 * 0.87
        dtext(foot_a, foot_a_h, tx, 4 + bh / 2, lab, "9.5px", angle=math.pi / 6, color=TICKTXT)
    fx += W + R
dtext(foot_a, foot_a_h, 381, 50, "Coefficient", "14px")
dtext(foot_a, foot_a_h, 62, 63, "Significant (BH FDR \u2264 0.1)", "13.5px", align="left")
foot_a.scatter(x=[68], y=[foot_a_h - 81], marker="circle", size=3.5, color="#1A1A1A")
foot_a.scatter(x=[68], y=[foot_a_h - 91], marker="x", size=4, line_color="#777777", line_width=1)
dtext(foot_a, foot_a_h, 77, 81, "yes", "10px", align="left")
dtext(foot_a, foot_a_h, 77, 91, "no", "10px", align="left")
panel_a = column(row(left_a, column(head_a, *a_rows)), foot_a)


# ===================== PANELS B, C, D =====================
def violin_panel(letter, title, data_rows, ticks, cols, Hp, S, Bs, head_h, foot_h, ylab_w, ylab_x, width,
                 letter_x, letter_mid, title_y, title_fs):
    rows_ = []
    for r in range(4):
        figs = []
        for c in range(3):
            W, L, R = cols[c]
            cats = NB_LEVELS if c == 0 else PV_LEVELS
            figs.append(violin_facet(data_rows[r][c], cats, ticks[r], METHODS[r], PARAMS[c],
                                     W, L, R, Bs[r], Hp, S))
        rows_.append(row(*figs))
    rows_h = sum(Hp + S + b for b in Bs)
    f1 = ylab_w + cols[0][1]
    f3 = f1 + cols[0][0] + cols[0][2] + cols[1][1] + cols[1][0] + cols[1][2] + cols[2][1] + cols[2][0]
    xc = (f1 + f3) / 2
    head = deco(width, head_h)
    dtext(head, head_h, letter_x, letter_mid, letter, LETTER_FS, font=FB, align="left",
          baseline="middle", bold=True)
    dtext(head, head_h, xc, title_y, title, title_fs)
    ylab = deco(ylab_w, rows_h)
    dtext(ylab, rows_h, ylab_x, rows_h / 2, "Batch Severity", "14px", angle=math.pi / 2)
    foot = deco(width, foot_h)
    dtext(foot, foot_h, xc, foot_h / 2, "Parameter Value", "13.5px")
    return column(head, row(ylab, column(*rows_)), foot)


B_COLS = [(195, 27, 0), (195, 33, 0), (195, 31, 1)]
C_COLS = [(193, 34, 0), (193, 38, 0), (193, 38, 3)]

km_rows = [[km_gold_nb, km_gold_scale, km_gold_loc], [km_lognorm_nb, km_lognorm_scale, km_lognorm_loc],
           [km_scan_nb, km_scan_scale, km_scan_loc], [km_scvi_nb, km_scvi_scale, km_scvi_loc]]
lv_rows = [[lv_gold_nb, lv_gold_scale, lv_gold_loc], [lv_lognorm_nb, lv_lognorm_scale, lv_lognorm_loc],
           [lv_scan_nb, lv_scan_scale, lv_scan_loc], [lv_scvi_nb, lv_scvi_scale, lv_scvi_loc]]
mx_rows = [[mx_gold_nb, mx_gold_scale, mx_gold_loc], [mx_lognorm_nb, mx_lognorm_scale, mx_lognorm_loc],
           [mx_scan_nb, mx_scan_scale, mx_scan_loc], [mx_scvi_nb, mx_scvi_scale, mx_scvi_loc]]

panel_b = violin_panel("b", "Clusterability (k-means)", km_rows, km_ticks, B_COLS, 120, 30, [16, 16, 16, 15],
                       55, 17, 36, 27, 713, 21, 25, 44.5, "16.5px")
panel_c = violin_panel("c", "Clusterability (Louvain)", lv_rows, lv_ticks, C_COLS, 119, 30, [16, 16, 16, 15],
                       63, 17, 20, 10, 712, 1, 35, 52, "16.5px")
panel_d = violin_panel("d", "Mixability", mx_rows, mx_ticks, B_COLS, 119, 30, [16, 16, 16, 15],
                       63, 17, 36, 27, 713, 21, 35, 52, "16.5px")

layout = column(row(panel_a, panel_b), row(panel_c, panel_d), margin=(0, 0, 0, 8))
open("out.html", "w").write(file_html(layout, INLINE, title="Batch severity"))
